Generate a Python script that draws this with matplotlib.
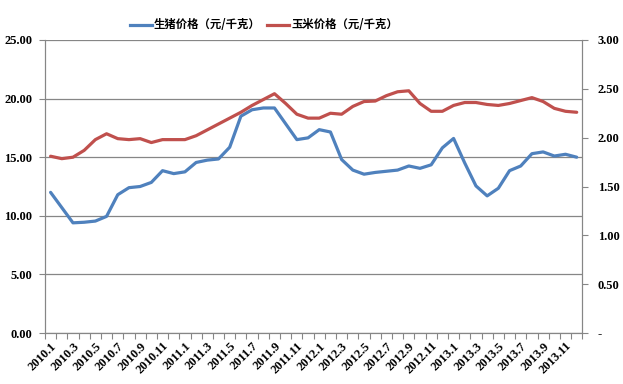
import matplotlib
matplotlib.use("Agg")
import matplotlib.pyplot as plt
from matplotlib.ticker import FixedLocator
from matplotlib.lines import Line2D

months = [f"{y}.{m}" for y in range(2010, 2014) for m in range(1, 13)]

pig = [12.0, 10.7, 9.4, 9.45, 9.55, 9.95, 11.8, 12.4, 12.5, 12.85, 13.85, 13.6,
       13.75, 14.55, 14.75, 14.85, 15.85, 18.5, 19.05, 19.2, 19.2, 17.85, 16.5, 16.65,
       17.35, 17.15, 14.8, 13.9, 13.55, 13.7, 13.8, 13.9, 14.25, 14.05, 14.35, 15.8,
       16.6, 14.5, 12.55, 11.7, 12.35, 13.85, 14.25, 15.3, 15.45, 15.1, 15.25, 15.0]

corn = [1.81, 1.785, 1.80, 1.87, 1.98, 2.04, 1.99, 1.98, 1.99, 1.95, 1.98, 1.98,
        1.98, 2.02, 2.08, 2.14, 2.20, 2.26, 2.33, 2.39, 2.45, 2.35, 2.24, 2.20,
        2.20, 2.25, 2.24, 2.32, 2.37, 2.375, 2.43, 2.47, 2.48, 2.35, 2.27, 2.27,
        2.33, 2.36, 2.36, 2.34, 2.33, 2.35, 2.38, 2.41, 2.37, 2.30, 2.27, 2.26]

left_ticks = [0, 5, 10, 15, 20, 25]
right_ticks = [0, 0.5, 1.0, 1.5, 2.0, 2.5, 3.0]
pig_label = "生猪价格（元/千克）"
corn_label = "玉米价格（元/千克）"

blue = "#4F81BD"
red = "#C0504D"
gray = "#868686"

serif = {"family": "Liberation Serif", "weight": "bold", "size": 9}

fig = plt.figure(figsize=(6.23, 3.84), dpi=100)
ax = fig.add_axes([45/623, 51/384, (582.3-45)/623, (333-40)/384])
ax2 = ax.twinx()

n = len(months)
x = list(range(n))
ax.plot(x, pig, color=blue, lw=2.3, solid_capstyle="round")
ax2.plot(x, corn, color=red, lw=2.3, solid_capstyle="round")

ax.set_xlim(-0.5, n - 0.5)
ax.set_ylim(0, 25)
ax2.set_ylim(0, 3)

ax.set_yticks(left_ticks)
ax.set_yticklabels([f"{v:.2f}" for v in left_ticks], fontdict=serif)
ax2.set_yticks(right_ticks)
ax2.set_yticklabels(["-" if v == 0 else f"{v:.2f}" for v in right_ticks], fontdict=serif)

ax.set_xticks(x[::2])
ax.set_xticklabels(months[::2], rotation=45, ha="right", va="top",
                   rotation_mode="anchor", fontdict=serif)
ax.xaxis.set_minor_locator(FixedLocator([i - 0.5 for i in range(n + 1)]))
ax.tick_params(axis="x", which="major", length=0, pad=5)
ax.tick_params(axis="x", which="minor", length=4, color=gray, width=0.8)
ax.tick_params(axis="y", length=4, color=gray, width=0.8, pad=5)
ax2.tick_params(axis="y", length=4, color=gray, width=0.8, pad=7)

ax.yaxis.grid(True, color=gray, lw=0.9)
ax.set_axisbelow(True)
for a in (ax, ax2):
    a.spines["top"].set_visible(False)
    for s in ("left", "right", "bottom"):
        a.spines[s].set_color(gray)
        a.spines[s].set_linewidth(0.8)

handles = [Line2D([], [], color=blue, lw=2.3), Line2D([], [], color=red, lw=2.3)]
leg = fig.legend(handles, [pig_label, corn_label], loc="center",
                 bbox_to_anchor=(264/623, 1 - 25/384), ncol=2, frameon=False,
                 prop={"family": ["Noto Sans CJK SC", "DejaVu Sans"], "weight": "bold", "size": 8.2},
                 handlelength=1.9, handletextpad=0.2, columnspacing=0.6)

fig.savefig("out.png", dpi=100)
